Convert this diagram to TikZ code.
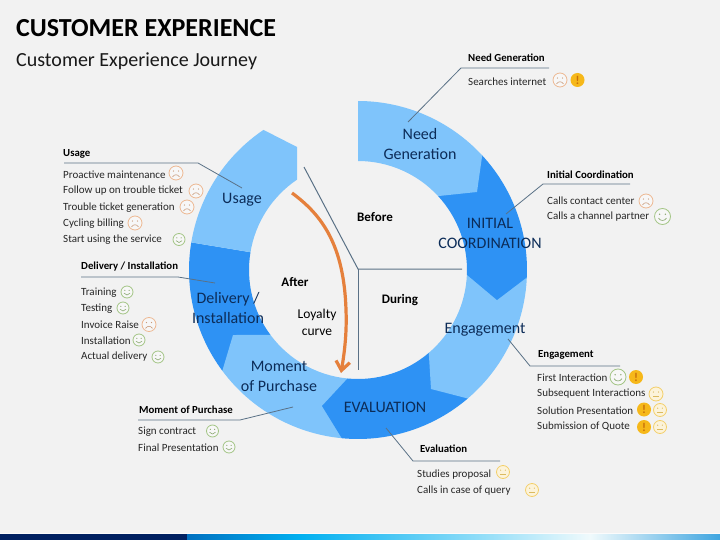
\documentclass[tikz,border=0pt]{standalone}
\usepackage{fontspec}
\setmainfont{Carlito}
\usetikzlibrary{arrows.meta}
\definecolor{pagebg}{HTML}{F2F2F2}
\definecolor{seglight}{HTML}{7FC4FB}
\definecolor{segdark}{HTML}{2E92F4}
\definecolor{inknavy}{HTML}{0C2C58}
\definecolor{inkdark}{HTML}{262626}
\definecolor{leadercol}{HTML}{5A7186}
\definecolor{curvecol}{HTML}{E5803C}
\definecolor{fgreen}{HTML}{A3C585}
\definecolor{forange}{HTML}{EDB892}
\definecolor{fyellow}{HTML}{F3CF6A}
\definecolor{excol}{HTML}{F6B81A}
\definecolor{exink}{HTML}{C8700A}
\definecolor{bandnavy}{HTML}{002060}
\definecolor{bandA}{HTML}{0070C0}
\definecolor{bandB}{HTML}{00B0F0}
\definecolor{bandC}{HTML}{90DDF8}
\definecolor{bandD}{HTML}{F0FAFC}
\definecolor{bandE}{HTML}{3FA5E0}
\colorlet{greenfacecol}{fgreen!85!black}
\colorlet{orangefacecol}{forange!85!black}
\colorlet{yellowfacecol}{fyellow!90!black}
\tikzset{
  item/.style={anchor=west,inner sep=0pt,text=inkdark,font=\fontsize{11}{13}\selectfont},
  headitem/.style={anchor=west,inner sep=0pt,text=black,font=\fontsize{10.8}{13}\selectfont\bfseries},
  ringlabel/.style={align=center,inner sep=0pt,text=inknavy,font=\fontsize{16}{20}\selectfont},
  phase/.style={inner sep=0pt,text=black,font=\fontsize{13}{15}\selectfont\bfseries},
  loyal/.style={align=center,inner sep=0pt,text=black,font=\fontsize{13.5}{17}\selectfont},
  leader/.style={draw=leadercol,line width=0.8pt},
  phaseline/.style={draw=leadercol,line width=1pt},
  greenface/.style={draw=fgreen,fill=pagebg!60!white,line width=0.8pt},
  orangeface/.style={draw=forange,fill=pagebg!60!white,line width=0.8pt},
  yellowface/.style={draw=fyellow,fill=fyellow!25!white,line width=0.8pt},
}
\newcommand\ringpt[2]{([shift={(358,270)}]#1:#2)}
\newcommand\ringseg[4]{%
  \fill[#1] \ringpt{#2}{169} arc[start angle=#2,end angle=#3,radius=169] #4 -- \ringpt{#3}{109} arc[start angle=#3,end angle=#2,radius=109] -- cycle;}
\newcommand\facebase[4]{%
  \path[#4] (#1,#2) circle[radius=#3];
  \fill[#4,draw=none,fill=#4col] (#1-0.36*#3,#2-0.28*#3) circle[radius=0.1*#3] (#1+0.36*#3,#2-0.28*#3) circle[radius=0.1*#3];}
\newcommand\hface[3]{\facebase{#1}{#2}{#3}{greenface}
  \draw[greenfacecol,line width=0.6pt] (#1-0.5*#3,#2+0.2*#3) .. controls (#1-0.25*#3,#2+0.6*#3) and (#1+0.25*#3,#2+0.6*#3) .. (#1+0.5*#3,#2+0.2*#3);}
\newcommand\sface[3]{\facebase{#1}{#2}{#3}{orangeface}
  \draw[orangefacecol,line width=0.6pt] (#1-0.5*#3,#2+0.55*#3) .. controls (#1-0.2*#3,#2+0.15*#3) and (#1+0.2*#3,#2+0.15*#3) .. (#1+0.5*#3,#2+0.55*#3);}
\newcommand\nface[3]{\facebase{#1}{#2}{#3}{yellowface}
  \draw[yellowfacecol,line width=0.6pt] (#1-0.4*#3,#2+0.35*#3) -- (#1+0.4*#3,#2+0.35*#3);}
\newcounter{exn}
\newcommand\excl[3]{\stepcounter{exn}%
  \fill[excol] (#1,#2) circle[radius=#3];
  \node[inner sep=0pt,text=exink,font=\fontsize{12}{12}\selectfont\bfseries] (ex\theexn) at (#1,#2) {!};}
\begin{document}
\begin{tikzpicture}[x=1pt,y=1pt,yscale=-1]
\useasboundingbox (0,0) rectangle (720,540);
\fill[pagebg] (0,0) rectangle (720,540);
% bottom band
\fill[white!70!pagebg] (0,532.5) rectangle (720,534);
\fill[bandnavy] (0,534) rectangle (187,540);
\fill[left color=bandA,right color=bandB] (187,534) rectangle (300,540);
\fill[left color=bandB,right color=bandC] (300,534) rectangle (480,540);
\fill[left color=bandC,right color=bandD] (480,534) rectangle (590,540);
\fill[left color=bandD,right color=bandE] (590,534) rectangle (720,540);
% title
\node[anchor=west,inner sep=0pt,text=black,font=\fontsize{26}{30}\selectfont\bfseries] (title) at (16,28.5) {CUSTOMER EXPERIENCE};
\node[anchor=west,inner sep=0pt,text=black!90,font=\fontsize{20}{24}\selectfont] (subtitle) at (16,61.5) {Customer Experience Journey};
% ring
\ringseg{segdark}{143.4}{189.4}{}
\ringseg{seglight}{189.4}{236}{-- (297,147)}
\ringseg{seglight}{95.5}{143.4}{-- (233,335)}
\ringseg{segdark}{49.5}{95.5}{-- (322,406)}
\ringseg{seglight}{2.5}{49.5}{-- (431,389)}
\ringseg{segdark}{-42.7}{2.5}{-- (497,300)}
\ringseg{seglight}{-90}{-42.7}{-- (477,192)}
% phase lines
\coordinate (hub) at (358,269);
\coordinate (beforeEnd) at (304,167);
\coordinate (duringEnd) at (462,269);
\coordinate (afterEnd) at (358,370);
\draw[phaseline] (beforeEnd) -- (hub) -- (duringEnd);
\draw[phaseline] (hub) -- (afterEnd);
% loyalty curve
\coordinate (curveA) at (292,193);
\coordinate (curveB) at (346,310);
\coordinate (curveC) at (341,373);
\draw[curvecol,line width=3.2pt,-{Straight Barb[length=9pt,width=14pt,line width=3.2pt]}] (curveA) .. controls (322,215) and (344,245) .. (curveB) .. controls (347,335) and (344,355) .. (curveC);
% leaders
\coordinate (needA) at (408,122); \coordinate (needB) at (461,68); \coordinate (needC) at (549,68);
\draw[leader] (needA) -- (needB) -- (needC);
\coordinate (initA) at (506,214); \coordinate (initB) at (543,184); \coordinate (initC) at (630,184);
\draw[leader] (initA) -- (initB) -- (initC);
\coordinate (engA) at (508,339); \coordinate (engB) at (530,366); \coordinate (engC) at (620,366);
\draw[leader] (engA) -- (engB) -- (engC);
\coordinate (evalA) at (386,428); \coordinate (evalB) at (413,461); \coordinate (evalC) at (500,461);
\draw[leader] (evalA) -- (evalB) -- (evalC);
\coordinate (momA) at (293,407); \coordinate (momB) at (240,420); \coordinate (momC) at (138,420);
\draw[leader] (momA) -- (momB) -- (momC);
\coordinate (delA) at (215,283); \coordinate (delB) at (178,277); \coordinate (delC) at (81,277);
\draw[leader] (delA) -- (delB) -- (delC);
\coordinate (useA) at (242,188); \coordinate (useB) at (198,163); \coordinate (useC) at (64,163);
\draw[leader] (useA) -- (useB) -- (useC);
% ring labels
\node[ringlabel] (lneed) at (420,143.8) {Need\\Generation};
\node[ringlabel] (linit) at (490,233.5) {INITIAL\\COORDINATION};
\node[ringlabel] (lengage) at (485,330) {Engagement};
\node[ringlabel] (leval) at (385,407.5) {EVALUATION};
\node[ringlabel] (lmoment) at (279,376.5) {Moment\\of Purchase};
\node[ringlabel] (ldelivery) at (228,308.5) {Delivery /\\Installation};
\node[ringlabel] (lusage) at (242,200) {Usage};
% centre labels
\node[phase] (pbefore) at (375,217) {Before};
\node[phase] (pduring) at (400,300.5) {During};
\node[phase] (pafter) at (295,282) {After};
\node[loyal] (ployal) at (317,322.5) {Loyalty\\curve};
% Need Generation
\node[headitem] (hneed) at (468,57.5) {Need Generation};
\node[item] (n1) at (468,81.5) {Searches internet};
\sface{560}{80}{7}\excl{577.5}{80}{7}
% Initial Coordination
\node[headitem] (hinit) at (547,174.5) {Initial Coordination};
\node[item] (i1) at (547,200.5) {Calls contact center};
\sface{646}{201}{7}
\node[item] (i2) at (547,216.5) {Calls a channel partner};
\hface{662.5}{216.5}{8}
% Engagement
\node[headitem] (heng) at (538,355) {Engagement};
\node[item] (e1) at (537,378) {First Interaction};
\hface{618}{377}{8}\excl{636}{377}{7}
\node[item] (e2) at (537,394) {Subsequent Interactions};
\nface{656}{394}{7}
\node[item] (e3) at (537,410.5) {Solution Presentation};
\excl{644}{409.5}{7}\nface{660}{410}{6.5}
\node[item] (e4) at (537,426.5) {Submission of Quote};
\excl{644}{427}{7}\nface{660}{427}{6.5}
% Evaluation
\node[headitem] (heval) at (420,448.5) {Evaluation};
\node[item] (v1) at (417,474.5) {Studies proposal};
\nface{503}{472}{6.5}
\node[item] (v2) at (417,490.5) {Calls in case of query};
\nface{532}{490}{6.5}
% Moment of Purchase
\node[headitem] (hmom) at (139,409.5) {Moment of Purchase};
\node[item] (m1) at (138,431.5) {Sign contract};
\hface{212.5}{431}{6}
\node[item] (m2) at (138,447.5) {Final Presentation};
\hface{229}{447}{6}
% Delivery / Installation
\node[headitem] (hdel) at (81,266.5) {Delivery / Installation};
\node[item] (d1) at (81,292.5) {Training};
\hface{127}{292}{6}
\node[item] (d2) at (81,308.5) {Testing};
\hface{123}{308}{6}
\node[item] (d3) at (81,324.5) {Invoice Raise};
\sface{149}{324.5}{7}
\node[item] (d4) at (81,340.5) {Installation};
\hface{139}{340}{6}
\node[item] (d5) at (81,357) {Actual delivery};
\hface{158}{357}{6}
% Usage
\node[headitem] (huse) at (63,154) {Usage};
\node[item] (u1) at (63,174.5) {Proactive maintenance};
\sface{176}{173}{7}
\node[item] (u2) at (63,191) {Follow up on trouble ticket};
\sface{196}{191}{7}
\node[item] (u3) at (63,207.5) {Trouble ticket generation};
\sface{187}{207}{7}
\node[item] (u4) at (63,223.5) {Cycling billing};
\sface{135}{223}{7}
\node[item] (u5) at (63,240) {Start using the service};
\hface{179}{239.5}{6}
\end{tikzpicture}
\end{document}
